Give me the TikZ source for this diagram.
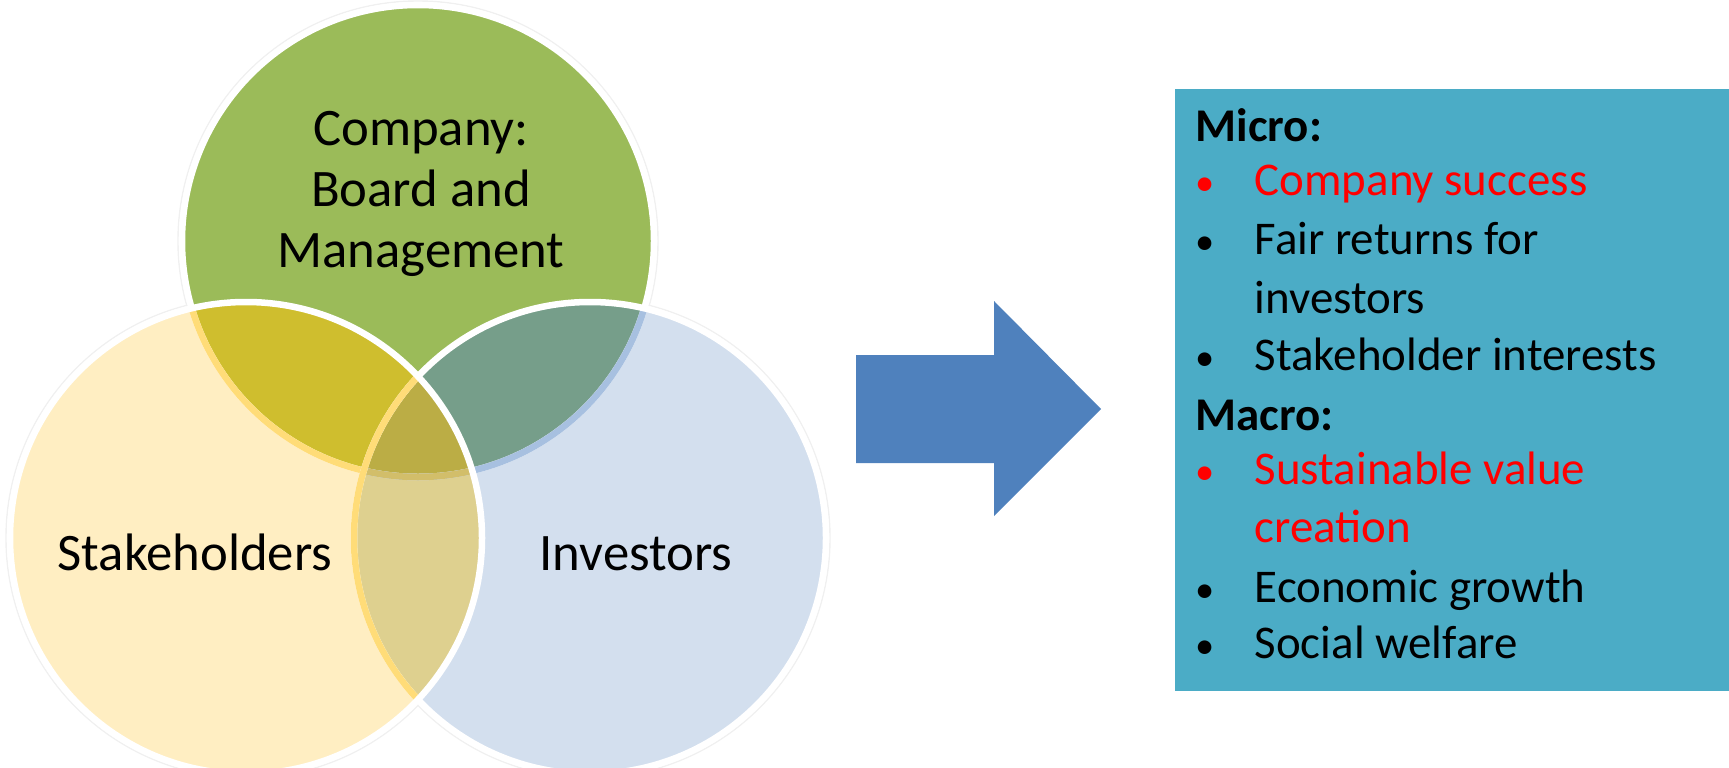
\documentclass[tikz,border=0pt]{standalone}
\usepackage{fontspec}
\usepackage{graphicx}
\setmainfont{Carlito}

\definecolor{verde}{HTML}{9BBB59}
\definecolor{giallo}{HTML}{FFEEC2}
\definecolor{azzurro}{HTML}{D3DFEE}
\definecolor{verdegiallo}{HTML}{CFBE2E}
\definecolor{verdeblu}{HTML}{769E8A}
\definecolor{gialloblu}{HTML}{DED08F}
\definecolor{centro}{HTML}{BBAD45}
\definecolor{oro}{HTML}{FFDC78}
\definecolor{bluchiaro}{HTML}{A7C0E0}
\definecolor{sabbia}{HTML}{D2BE6A}
\definecolor{freccia}{HTML}{4F81BD}
\definecolor{riquadro}{HTML}{4BACC6}

\newcommand{\pallino}{\makebox[0.59cm][l]{\scalebox{0.82}{•}}}

\begin{document}
\begin{tikzpicture}
    % Definizione stili
    \tikzset{
        bordo/.style={draw=white, line width=0.065cm},
        etichetta/.style={font=\fontsize{15}{17.3}\selectfont, text=black,
                          align=center, inner sep=0},
        voce/.style={font=\fontsize{13.35}{16}\selectfont,
                     anchor=base west, inner sep=0}
    }
    \useasboundingbox (0,0) rectangle (17.29,7.67);

    % Centri dei cerchi
    \coordinate (cg) at (4.18,5.26);
    \coordinate (cy) at (2.46,2.29);
    \coordinate (cb) at (5.90,2.29);

    % Alone esterno
    \foreach \c in {cg,cy,cb}
        \draw[black!6, line width=0.4pt] (\c) circle (2.40);

    % Cerchi
    \fill[giallo] (cy) circle (2.36);
    \fill[azzurro] (cb) circle (2.36);
    \fill[verde] (cg) circle (2.36);

    % Intersezioni
    \begin{scope}
        \clip (cy) circle (2.36);
        \fill[gialloblu] (cb) circle (2.36);
    \end{scope}
    \begin{scope}
        \clip (cg) circle (2.36);
        \fill[verdegiallo] (cy) circle (2.36);
        \fill[verdeblu] (cb) circle (2.36);
        \clip (cy) circle (2.36);
        \fill[centro] (cb) circle (2.36);
    \end{scope}

    % Bordi
    \draw[bordo] (cg) circle (2.36);
    \begin{scope}
        \clip (cy) circle (2.36);
        \draw[bordo, draw=oro] (cg) circle (2.36);
    \end{scope}
    \begin{scope}
        \clip (cb) circle (2.36);
        \draw[bordo, draw=bluchiaro] (cg) circle (2.36);
        \clip (cy) circle (2.36);
        \draw[bordo, draw=sabbia] (cg) circle (2.36);
    \end{scope}
    \draw[bordo] (cb) circle (2.36);
    \begin{scope}
        \clip (cy) circle (2.36);
        \draw[bordo, draw=oro] (cb) circle (2.36);
    \end{scope}
    \draw[bordo] (cy) circle (2.36);

    % Etichette
    \node[etichetta] (company) at (4.21,5.73) {Company:\\Board and\\Management};
    \node[etichetta, anchor=base] (stake) at (1.95,1.97) {Stakeholders};
    \node[etichetta, anchor=base] (inv) at (6.36,1.97) {Investors};

    % Freccia
    \draw[fill=freccia, draw=none] (8.56,4.12) -- (9.94,4.12) -- (9.94,4.66)
        -- (11.01,3.58) -- (9.94,2.51) -- (9.94,3.04) -- (8.56,3.04) -- cycle;

    % Riquadro
    \node[fill=riquadro, minimum width=5.55cm, minimum height=6.02cm,
          anchor=north west, inner sep=0] (effetti) at (11.74,6.79) {};

    % Voci
    \foreach \y/\testo/\col [count=\i] in {
        6.26/\textbf{Micro:}/black,
        5.72/\pallino Company success/red,
        5.13/\pallino Fair returns for/black,
        4.54/\hspace*{0.59cm}investors/black,
        3.97/\pallino Stakeholder interests/black,
        3.37/\textbf{Macro:}/black,
        2.83/\pallino Sustainable value/red,
        2.25/\hspace*{0.59cm}creation/red,
        1.65/\pallino Economic growth/black,
        1.09/\pallino Social welfare/black}
        \node[voce, text=\col] (riga\i) at (11.95,\y) {\testo};
\end{tikzpicture}
\end{document}
